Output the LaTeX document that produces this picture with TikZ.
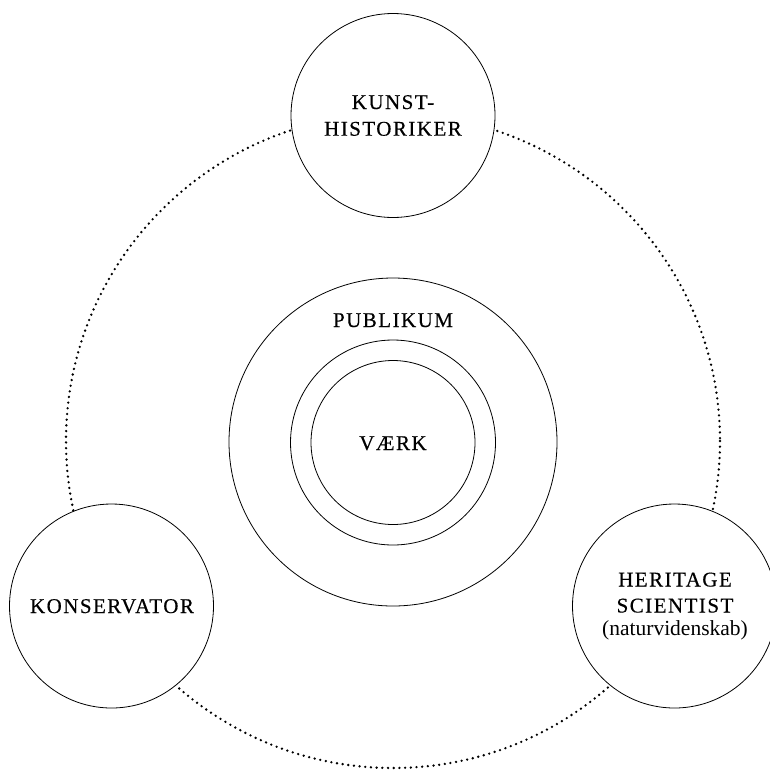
\documentclass[tikz,border=0pt]{standalone}
\usepackage{fontspec}
\setmainfont{Liberation Serif}
\newfontfamily\capsfont[LetterSpace=7,FakeBold=0.4]{Liberation Serif}
\begin{document}
\begin{tikzpicture}[x=1pt,y=-1pt,
  ring/.style={circle,draw,line width=0.8pt,inner sep=0pt},
  rolebox/.style={ring,fill=white,minimum size=204pt},
  caps/.style={font=\capsfont\fontsize{21}{25}\selectfont,anchor=base,inner sep=0pt},
  plain/.style={font=\fontsize{21.5}{25}\selectfont,anchor=base,inner sep=0pt},
  dotring/.style={line width=2.6pt,line cap=round,dash pattern=on 0pt off 5.7pt}]
\useasboundingbox (0,0) rectangle (770,769);
% outer dotted ring
\coordinate (c) at (393,441);
\draw[dotring] (c) circle[radius=327];
% central rings
\node[ring,minimum size=328pt] (pub) at (393,442) {};
\node[ring,minimum size=205pt] (mid) at (393,442.5) {};
\node[ring,minimum size=164pt] (vaerk) at (393,442.5) {};
\node[caps] (tpub) at (393,327) {PUBLIKUM};
\node[caps] (tvaerk) at (393,450) {VÆRK};
% role circles
\node[rolebox] (kh) at (393,115.5) {};
\node[rolebox] (ko) at (111.5,606) {};
\node[rolebox] (hs) at (674.5,606) {};
\node[caps] (t1) at (393,109) {KUNST-};
\node[caps] (t2) at (393,135.7) {HISTORIKER};
\node[caps] (t3) at (112,613) {KONSERVATOR};
\node[caps] (t4) at (675,586.5) {HERITAGE};
\node[caps] (t5) at (675,612.5) {SCIENTIST};
\node[plain] (t6) at (675,635.5) {(naturvidenskab)};
\end{tikzpicture}
\end{document}
